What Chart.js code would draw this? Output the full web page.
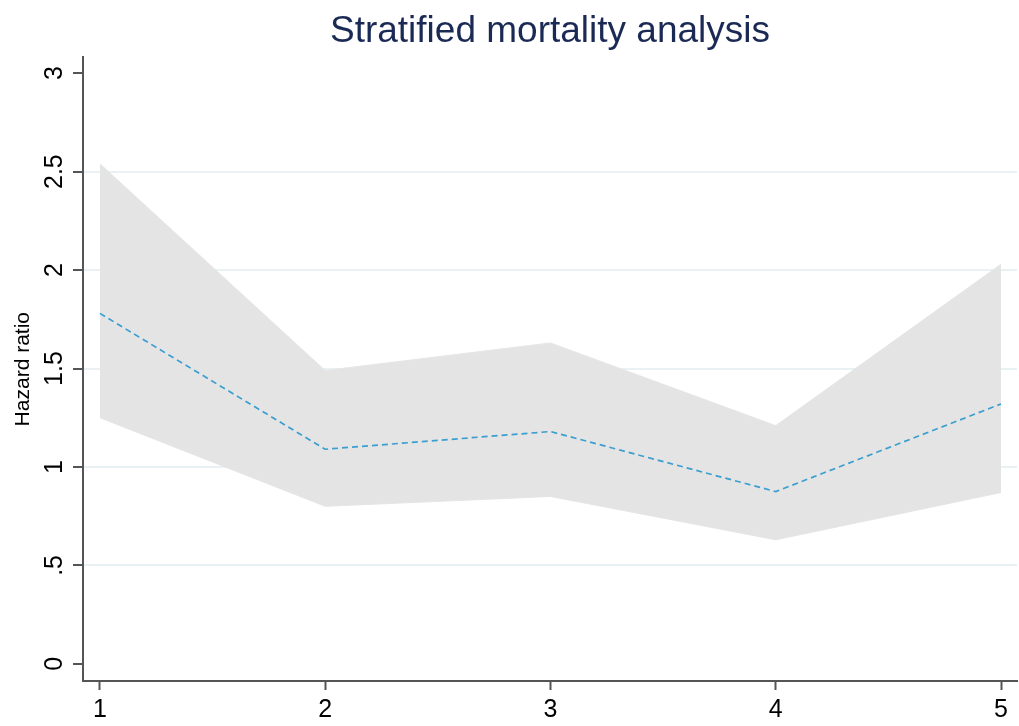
<!DOCTYPE html>
<html>
<head>
<meta charset="utf-8">
<script src="https://cdn.jsdelivr.net/npm/chart.js@4/dist/chart.umd.min.js"></script>
<style>
  html, body { margin: 0; padding: 0; background: #fff; }
  #wrap { width: 1019px; height: 726px; }
</style>
</head>
<body>
<div id="wrap"><canvas id="chart" width="1019" height="726"></canvas></div>
<script>
var strata = [1, 2, 3, 4, 5];
var hazard = [1.78, 1.09, 1.18, 0.875, 1.32];
var lowerCI = [1.25, 0.80, 0.85, 0.63, 0.87];
var upperCI = [2.54, 1.49, 1.63, 1.21, 2.03];
var yTickValues = [0, 0.5, 1, 1.5, 2, 2.5, 3];
var yTickLabels = ['0', '.5', '1', '1.5', '2', '2.5', '3'];
var xTickValues = [1, 2, 3, 4, 5];

function points(values) {
  var out = [];
  for (var i = 0; i < strata.length; ++i) {
    out.push({ x: strata[i], y: values[i] });
  }
  return out;
}

function fixedTicks(values) {
  return function (scale) {
    scale.ticks = values.map(function (v) { return { value: v }; });
  };
}

var axisColor = '#555555';
var font = 'Liberation Sans, Arial, Helvetica, sans-serif';

var ctx = document.getElementById('chart').getContext('2d');
var chart = new Chart(ctx, {
  type: 'line',
  data: {
    datasets: [
      {
        label: 'Hazard ratio',
        data: points(hazard),
        borderColor: '#3a9fd0',
        borderWidth: 1.7,
        borderDash: [6, 4],
        pointRadius: 0,
        fill: false,
        tension: 0,
      },
      {
        label: 'upper',
        data: points(upperCI),
        borderColor: '#e6e6e6',
        borderWidth: 1,
        backgroundColor: '#e4e4e4',
        pointRadius: 0,
        fill: '+1',
        tension: 0,
      },
      {
        label: 'lower',
        data: points(lowerCI),
        borderColor: '#e6e6e6',
        borderWidth: 1,
        pointRadius: 0,
        fill: false,
        tension: 0,
      },
    ],
  },
  options: {
    responsive: false,
    animation: false,
    layout: {
      padding: { left: 0, right: 2, top: 0, bottom: 0 },
    },
    plugins: {
      legend: { display: false },
      tooltip: { enabled: false },
      title: {
        display: true,
        text: 'Stratified mortality analysis',
        color: '#1b2a55',
        fullSize: false,
        font: { family: font, size: 37, weight: 'normal', lineHeight: 1.2 },
        padding: { top: 10, bottom: 3 },
      },
    },
    scales: {
      x: {
        type: 'linear',
        min: 0.925,
        max: 5.071,
        afterBuildTicks: fixedTicks(xTickValues),
        afterFit: function (scale) { scale.height = 45; },
        border: { display: true, color: axisColor, width: 2 },
        grid: {
          drawOnChartArea: false,
          drawTicks: true,
          tickLength: 9,
          tickColor: axisColor,
          tickWidth: 2,
        },
        ticks: {
          color: '#000',
          padding: 5,
          maxRotation: 0,
          font: { family: font, size: 25 },
          callback: function (v) { return '' + v; },
        },
      },
      y: {
        type: 'linear',
        min: -0.087,
        max: 3.08,
        afterBuildTicks: fixedTicks(yTickValues),
        afterFit: function (scale) { scale.width = 83; },
        border: { display: true, color: axisColor, width: 2 },
        grid: {
          drawTicks: true,
          tickLength: 10,
          tickWidth: 2,
          tickColor: axisColor,
          lineWidth: 2,
          color: function (c) {
            var v = c.tick ? c.tick.value : null;
            if (v === 0 || v === 3) {
              return 'rgba(0,0,0,0)';
            }
            return '#e9f1f4';
          },
        },
        ticks: {
          color: '#000',
          padding: 1,
          minRotation: 90,
          maxRotation: 90,
          crossAlign: 'center',
          font: { family: font, size: 25 },
          callback: function (v) {
            var i = yTickValues.indexOf(v);
            return i >= 0 ? yTickLabels[i] : '';
          },
        },
        title: {
          display: true,
          text: 'Hazard ratio',
          color: '#000',
          font: { family: font, size: 21 },
          padding: { top: 11, bottom: 0 },
        },
      },
    },
  },
});
</script>
</body>
</html>
